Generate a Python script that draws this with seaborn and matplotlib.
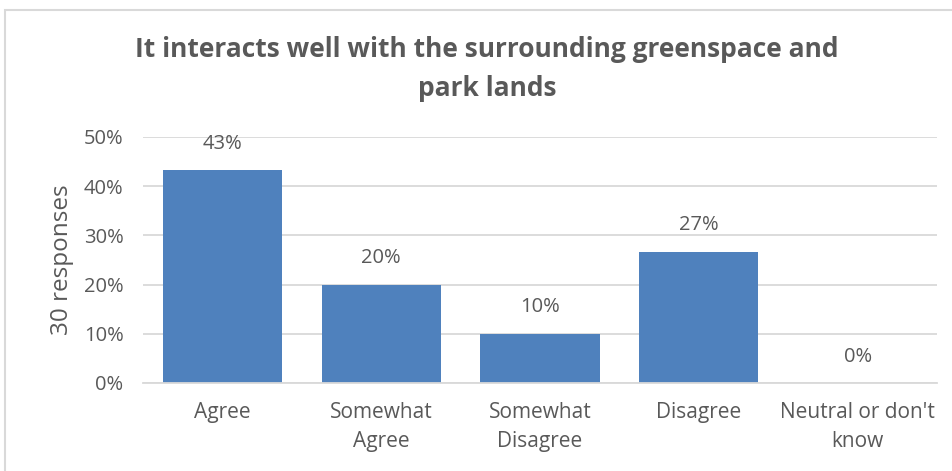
import matplotlib
matplotlib.use("Agg")
import matplotlib.pyplot as plt
import seaborn as sns
import pandas as pd
from matplotlib.patches import Rectangle

categories = ["Agree", "Somewhat\nAgree", "Somewhat\nDisagree", "Disagree", "Neutral or don't\nknow"]
shares = [43.3, 20.0, 10.0, 26.7, 0.0]
y_ticks = [0, 10, 20, 30, 40, 50]

title = "It interacts well with the surrounding greenspace and\npark lands"
y_label = "30 responses"

sns.set_theme(style="white")
plt.rcParams["font.family"] = ["Open Sans", "DejaVu Sans"]

text_color = "#595959"
bar_color = "#4F81BD"
grid_color = "#D9D9D9"

df = pd.DataFrame({"category": categories, "share": shares})

fig = plt.figure(figsize=(9.53, 4.71), dpi=100)
ax = fig.add_axes([143 / 953, 1 - 383 / 471, (937 - 143) / 953, (383 - 137) / 471])

sns.barplot(data=df, x="category", y="share", color=bar_color, saturation=1,
            width=0.75, ax=ax, edgecolor="none")

ax.set_ylim(0, 50)
ax.set_yticks(y_ticks)
ax.set_yticklabels([f"{t}%" for t in y_ticks])
ax.yaxis.grid(True, color=grid_color, linewidth=1.3)
ax.set_axisbelow(True)
for s in ["top", "right", "left"]:
    ax.spines[s].set_visible(False)
ax.spines["bottom"].set_color(grid_color)
ax.spines["bottom"].set_linewidth(1.3)
ax.tick_params(axis="both", length=0, labelsize=14.5, colors=text_color)
ax.tick_params(axis="x", labelsize=15, pad=14)
ax.tick_params(axis="y", pad=14)
for lbl in ax.get_xticklabels():
    lbl.set_linespacing(1.45)

ax.set_xlabel("")
ax.set_ylabel(y_label, fontsize=17.5, color=text_color, labelpad=7)

for patch, v in zip(ax.patches, shares):
    ax.annotate(f"{v:.0f}%", (patch.get_x() + patch.get_width() / 2, patch.get_height()),
                xytext=(0, 19), textcoords="offset points", ha="center", va="center",
                fontsize=14.5, color=text_color)

fig.text(487 / 953, 1 - 69 / 471, title, ha="center", va="center", fontsize=19,
         fontweight="bold", color=text_color, linespacing=1.55)

# thin outer frame of the chart area
fig.patches.append(Rectangle((5 / 953, -0.01), 1.1, 1 - 5 / 471, transform=fig.transFigure,
                             fill=False, edgecolor="#D9D9D9", linewidth=1.5))

fig.savefig("out.png", dpi=100)
